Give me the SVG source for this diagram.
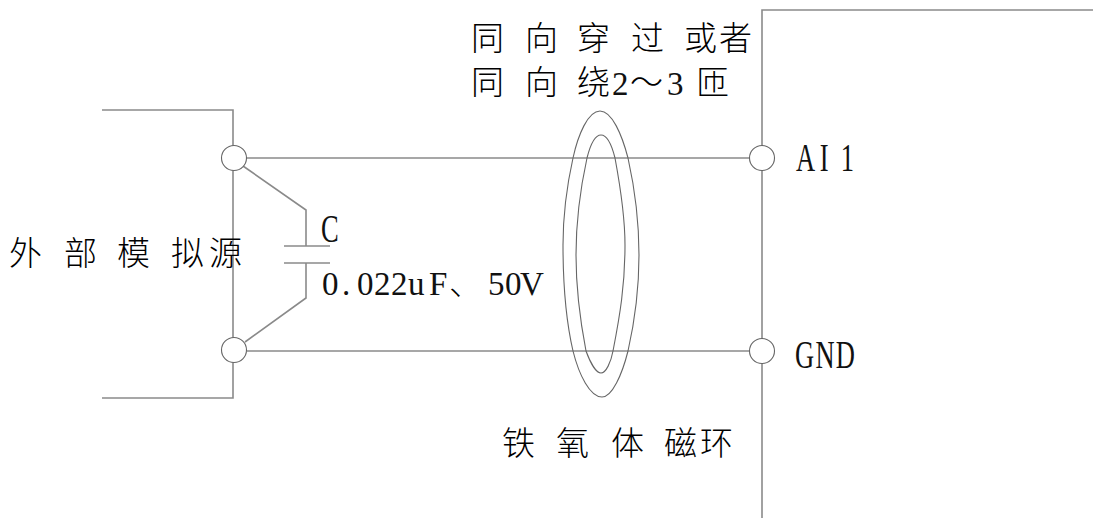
<svg xmlns="http://www.w3.org/2000/svg" width="1093" height="518" viewBox="0 0 1093 518">
<style>
.w{fill:none;stroke:#8a8a8a;stroke-width:1.6}
.t{fill:none;stroke:#666;stroke-width:1.1}
.c{fill:#fff;stroke:#666;stroke-width:1.1}
text{fill:#111}
.z{font-family:"Noto Sans CJK SC","Noto Sans CJK JP",sans-serif;font-size:33px;font-weight:300;fill:#000}
.l{font-family:"Liberation Serif",serif;font-size:33px}
.n{font-family:"Liberation Serif",serif;font-size:39px}
</style>
<rect width="1093" height="518" fill="#fff"/>
<g id="connectors">
<path class="w" d="M102 110H233V398H102"/>
<path class="w" d="M1093 10H762V518"/>
<path class="w" d="M247 158H750M247 351H750"/>
<path class="w" d="M243 166L306 210V246M284 246H330M284 263H330M306 263V298L245 342"/>
</g>
<g id="core">
<path class="t" d="M600 111C588 111 578 135 573 158C567 185 563 215 563 245C563 290 567 325 573 351C579 375 590 397 602 397C612 397 622 375 628 351C635 320 639 290 639 255C639 215 634 185 628 158C622 135 612 111 600 111Z"/>
<path class="t" d="M601 135C595 135 590 146 587 158C580 190 576 220 576 255C576 295 581 325 586 351C590 362 596 373 601 373C606 373 611 362 613 351C620 315 625 285 625 245C625 215 620 185 615 158C612 146 607 135 601 135Z"/>
</g>
<g id="terminal-left-top"><circle class="c" cx="234" cy="158" r="12.5"/></g>
<g id="terminal-left-bottom"><circle class="c" cx="234" cy="350" r="12.5"/></g>
<g id="terminal-ai1"><circle class="c" cx="762" cy="158" r="12.5"/><text class="n" transform="translate(796 171) scale(.68 1)" x="0 35 66">AI1</text></g>
<g id="terminal-gnd"><circle class="c" cx="762" cy="351" r="12.5"/><text class="n" transform="translate(795 368) scale(.68 1)" x="0 30 60">GND</text></g>
<g id="source-label"><text class="z" x="9 64 117 171 209" y="265">外部模拟源</text></g>
<g id="capacitor-label">
<text class="n" transform="translate(321 242) scale(.68 1)" x="0">C</text>
<text class="l" x="322 342 357 374 391 408 429" y="295">0.022uF</text>
<text class="z" x="449" y="295">、</text>
<text class="l" x="488 505 520" y="295">50V</text>
</g>
<g id="core-note">
<text class="z" x="471 525 577 631 684 719" y="50">同向穿过或者</text>
<text class="z" x="471 525 577" y="94">同向绕</text>
<text class="l" x="612" y="95">2</text>
<text class="z" x="630" y="94">～</text>
<text class="l" x="667" y="95">3</text>
<text class="z" x="696" y="94">匝</text>
</g>
<g id="core-label"><text class="z" x="502 556 611 664 700" y="455">铁氧体磁环</text></g>
</svg>
